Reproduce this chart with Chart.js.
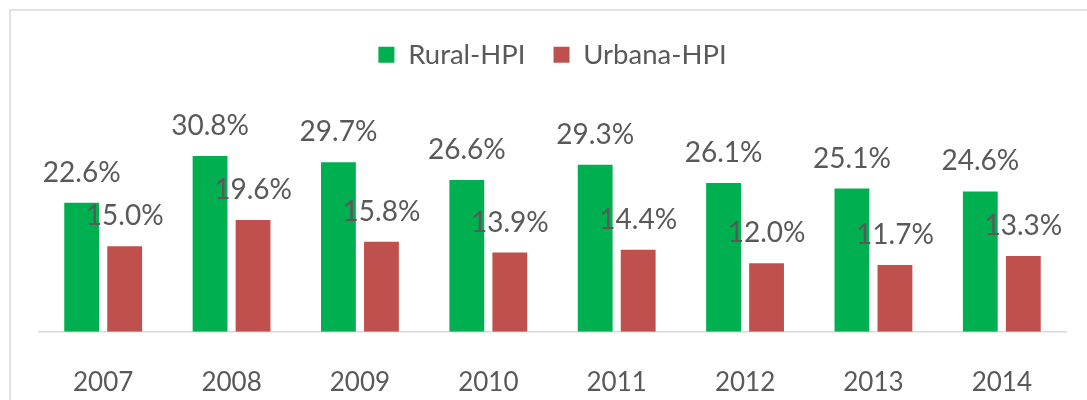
<!DOCTYPE html>
<html>
<head>
<meta charset="utf-8">
<script src="https://cdn.jsdelivr.net/npm/chart.js@4.4.1/dist/chart.umd.min.js"></script>
<style>
  html, body { margin: 0; padding: 0; background: #fff; }
  #wrap { position: relative; width: 1087px; height: 400px; }
</style>
</head>
<body>
<div id="wrap"><canvas id="hpiChart" width="1087" height="400"></canvas></div>
<script>
// HPI by area, 2007-2014
const years = ["2007", "2008", "2009", "2010", "2011", "2012", "2013", "2014"];
const ruralHPI = [22.6, 30.8, 29.7, 26.6, 29.3, 26.1, 25.1, 24.6];
const urbanaHPI = [15.0, 19.6, 15.8, 13.9, 14.4, 12.0, 11.7, 13.3];

const textGray = "#595959";
const fontFamily = "Lato, 'Open Sans', sans-serif";

// light frame around the chart, like the Excel chart area
const framePlugin = {
  id: "frame",
  beforeDraw(chart) {
    const ctx = chart.ctx;
    ctx.save();
    ctx.strokeStyle = "#d9d9d9";
    ctx.lineWidth = 1.5;
    ctx.strokeRect(10, 10, chart.width + 20, chart.height + 20);
    ctx.restore();
  }
};

// value labels above each bar
const valueLabels = {
  id: "valueLabels",
  afterDatasetsDraw(chart) {
    const ctx = chart.ctx;
    ctx.save();
    ctx.font = "28px " + fontFamily;
    ctx.fillStyle = textGray;
    ctx.textAlign = "center";
    ctx.textBaseline = "middle";
    chart.data.datasets.forEach((ds, i) => {
      chart.getDatasetMeta(i).data.forEach((bar, j) => {
        ctx.fillText(ds.data[j].toFixed(1) + "%", bar.x, bar.y - 30);
      });
    });
    ctx.restore();
  }
};

new Chart(document.getElementById("hpiChart"), {
  type: "bar",
  data: {
    labels: years,
    datasets: [
      { label: "Rural-HPI", data: ruralHPI, backgroundColor: "#00b050" },
      { label: "Urbana-HPI", data: urbanaHPI, backgroundColor: "#c0504d" }
    ]
  },
  options: {
    responsive: false,
    animation: false,
    layout: { padding: { left: 39, right: 21, top: 13, bottom: -33 } },
    categoryPercentage: 0.67,
    barPercentage: 0.81,
    plugins: {
      legend: {
        position: "top",
        labels: {
          boxWidth: 16,
          boxHeight: 16,
          padding: 28,
          color: textGray,
          font: { family: fontFamily, size: 27.5 }
        }
      },
      tooltip: { enabled: false }
    },
    scales: {
      x: {
        grid: { display: false, drawTicks: false },
        border: { display: true, color: "#d9d9d9", width: 1.5 },
        ticks: {
          color: textGray,
          padding: 35,
          font: { family: fontFamily, size: 26 }
        }
      },
      y: {
        display: false,
        min: 0,
        max: 44.4
      }
    }
  },
  plugins: [framePlugin, valueLabels]
});
</script>
</body>
</html>
